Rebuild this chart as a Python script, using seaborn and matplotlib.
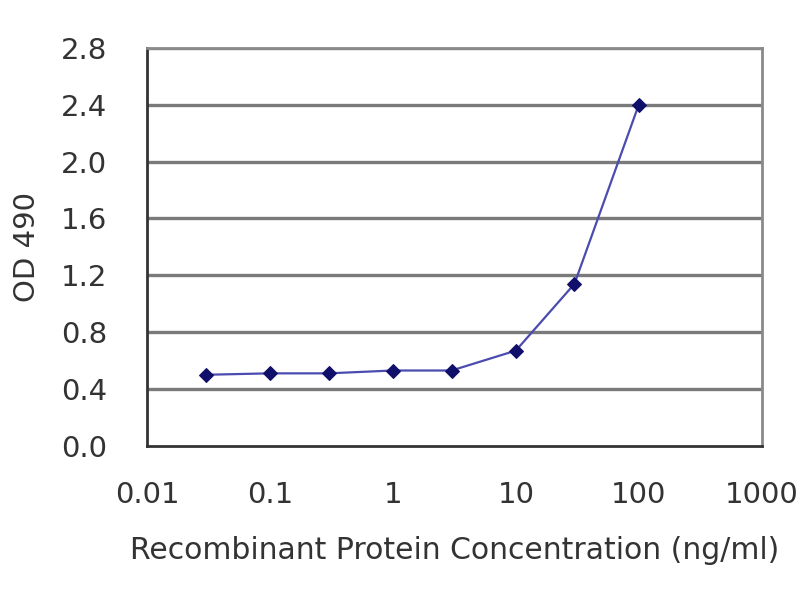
import matplotlib
matplotlib.use("Agg")
import matplotlib.pyplot as plt
import seaborn as sns
import pandas as pd
from matplotlib.ticker import FixedLocator, FixedFormatter, NullLocator

concentration = [0.03, 0.1, 0.3, 1, 3, 10, 30, 100]
od490 = [0.50, 0.51, 0.51, 0.53, 0.53, 0.67, 1.14, 2.40]
x_ticks = [0.01, 0.1, 1, 10, 100, 1000]
x_labels = ["0.01", "0.1", "1", "10", "100", "1000"]
y_ticks = [0.0, 0.4, 0.8, 1.2, 1.6, 2.0, 2.4, 2.8]
y_labels = ["0.0", "0.4", "0.8", "1.2", "1.6", "2.0", "2.4", "2.8"]

df = pd.DataFrame({"conc": concentration, "od": od490})

sns.set_style("white")
plt.rcParams["font.family"] = ["DejaVu Sans"]

fig = plt.figure(figsize=(8, 6), dpi=100)
ax = fig.add_axes([0.184, 0.257, 0.768, 0.663])

for y in y_ticks[1:]:
    ax.axhline(y, color="#7a7a7a", lw=2.4, zorder=1)

sns.lineplot(data=df, x="conc", y="od", ax=ax, color="#4b4bb0", lw=1.6,
             marker="D", markersize=7, markerfacecolor="#10106a",
             markeredgecolor="#10106a", zorder=3)

ax.set_xscale("log")
ax.set_xlim(0.01, 1000)
ax.set_ylim(0, 2.8)
ax.xaxis.set_major_locator(FixedLocator(x_ticks))
ax.xaxis.set_major_formatter(FixedFormatter(x_labels))
ax.xaxis.set_minor_locator(NullLocator())
ax.yaxis.set_major_locator(FixedLocator(y_ticks))
ax.yaxis.set_major_formatter(FixedFormatter(y_labels))

ax.tick_params(axis="both", labelsize=21, colors="#333333", length=5,
               direction="in", width=1.5)
ax.tick_params(axis="y", pad=29)
ax.tick_params(axis="x", pad=25)

for side in ["left", "bottom"]:
    ax.spines[side].set_color("#333333")
    ax.spines[side].set_linewidth(2)
for side in ["top", "right"]:
    ax.spines[side].set_color("#8a8a8a")
    ax.spines[side].set_linewidth(2)

ax.set_xlabel("Recombinant Protein Concentration (ng/ml)", fontsize=21.5,
              color="#333333", labelpad=20)
ax.set_ylabel("OD 490", fontsize=21, color="#333333", labelpad=14)

fig.savefig("out.png", dpi=100)
